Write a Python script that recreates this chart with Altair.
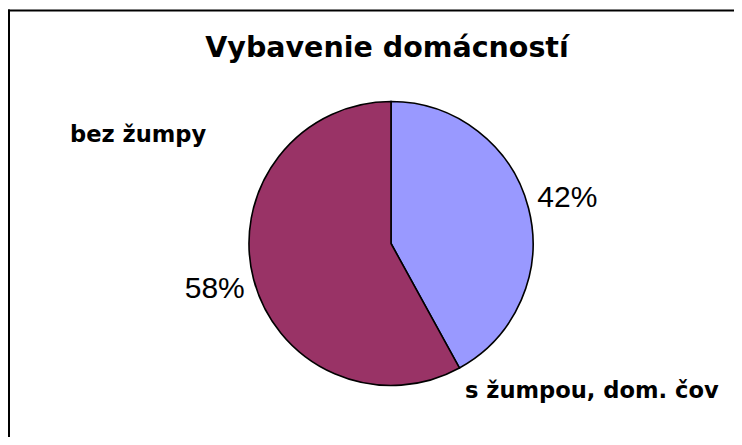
import altair as alt
import pandas as pd

# --- data ---
categories = ["s žumpou, dom. čov", "bez žumpy"]
shares = [42, 58]
pct_labels = ["42%", "58%"]
slice_order = [0, 1]
colors = ["#9999FF", "#993366"]
title_text = "Vybavenie domácností"

df = pd.DataFrame({"cat": categories, "share": shares, "pct": pct_labels, "ord": slice_order})

W, H = 726, 429
CX, CY = 383, 235.5
R = 142

base = alt.Chart(df).encode(
    theta=alt.Theta("share:Q", stack=True),
    order=alt.Order("ord:Q"),
)

pie = base.mark_arc(outerRadius=R, stroke="black", strokeWidth=1.6).encode(
    color=alt.Color("cat:N", scale=alt.Scale(domain=categories, range=colors), legend=None),
    x=alt.value(CX),
    y=alt.value(CY),
)

pct = base.mark_text(
    radius=182, font="Liberation Sans", fontSize=30, align="center",
    baseline="middle", color="black",
).encode(text="pct:N", x=alt.value(CX), y=alt.value(CY))

label_style = dict(font="DejaVu Sans", fontWeight="bold", fontSize=22.6,
                   align="left", baseline="alphabetic", color="black")

lab_bez = alt.Chart(df).transform_filter(
    alt.datum.cat == categories[1]
).mark_text(**label_style).encode(text="cat:N", x=alt.value(62), y=alt.value(134))

lab_s = alt.Chart(df).transform_filter(
    alt.datum.cat == categories[0]
).mark_text(**label_style).encode(text="cat:N", x=alt.value(457), y=alt.value(390))

title = alt.Chart(pd.DataFrame({"t": [title_text]})).mark_text(
    font="DejaVu Sans", fontWeight="bold", fontSize=28.5, align="center",
    baseline="alphabetic", color="black",
).encode(text="t:N", x=alt.value(379), y=alt.value(49))

frame_data = pd.DataFrame({"k": [0]})
top_rule = alt.Chart(frame_data).mark_rule(color="black", strokeWidth=2).encode(
    x=alt.value(0), x2=alt.value(W), y=alt.value(2.5)
)
left_rule = alt.Chart(frame_data).mark_rule(color="black", strokeWidth=2).encode(
    x=alt.value(1), y=alt.value(1.5), y2=alt.value(H)
)

chart = alt.layer(pie, pct, lab_bez, lab_s, title, top_rule, left_rule).properties(
    width=W, height=H, autosize=alt.AutoSizeParams(type="none"), padding=0,
    background="white",
).configure_view(stroke=None)

chart.save("out.html", embed_options={"renderer": "svg", "actions": False})
